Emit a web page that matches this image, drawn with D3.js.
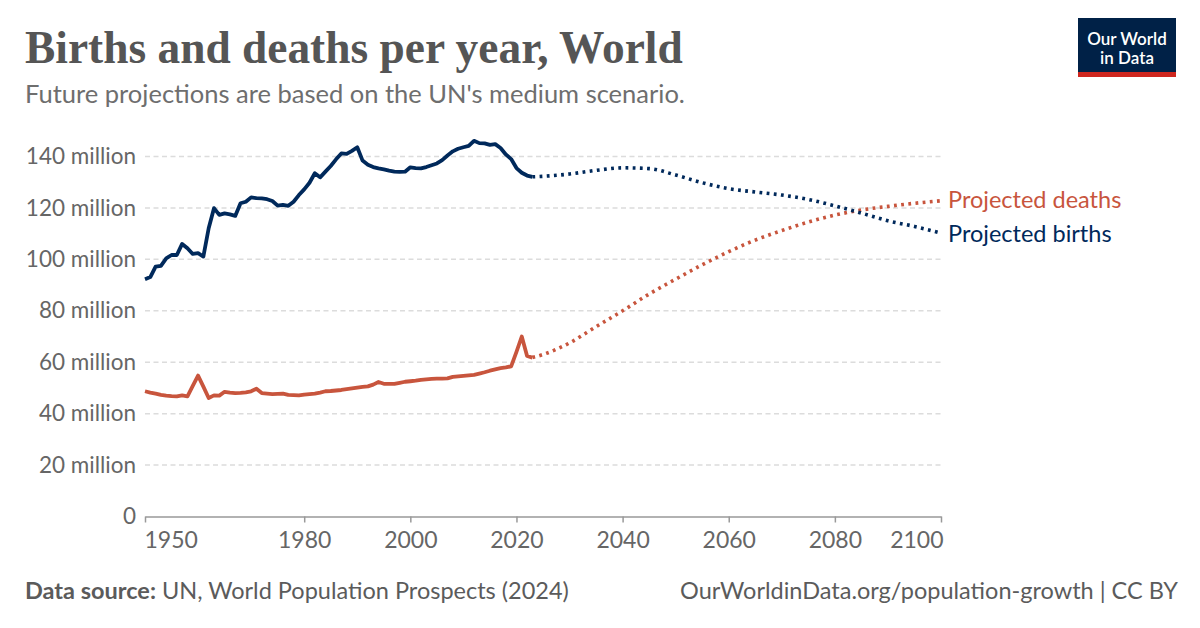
<!DOCTYPE html>
<html><head><meta charset="utf-8">
<script src="https://cdn.jsdelivr.net/npm/d3@7/dist/d3.min.js"></script>
<style>body{margin:0;background:#fff}svg{display:block}</style>
</head><body><svg id="c" width="1200" height="628"></svg>
<script>
const birthYears = d3.range(1950, 2024);
const births = [92.3,93.1,97.2,97.5,100.4,101.7,101.7,106.0,104.3,102.1,
102.4,101.1,112.1,119.9,117.3,117.9,117.5,116.9,121.8,122.4,
124.1,123.8,123.7,123.4,122.7,120.9,121.2,120.8,122.4,125.0,
127.2,129.8,133.5,131.9,134.1,136.3,138.9,141.2,141.0,142.2,
143.6,138.4,136.8,135.9,135.4,135.0,134.5,134.1,134.0,134.1,
135.8,135.5,135.4,135.9,136.6,137.3,138.6,140.4,142.0,143.0,
143.6,144.1,146.1,145.2,145.1,144.5,144.8,143.3,140.8,139.0,
135.5,133.7,132.6,132.1];
const deathYears = d3.range(1950, 2024);
const deaths = [48.7,48.2,47.8,47.3,47.0,46.8,46.7,47.1,46.7,50.8,
54.8,50.5,46.1,47.1,47.0,48.5,48.2,48.0,48.1,48.3,
48.7,49.7,48.0,47.8,47.6,47.7,47.8,47.3,47.2,47.1,
47.4,47.6,47.8,48.2,48.7,48.8,49.0,49.2,49.5,49.8,
50.1,50.4,50.6,51.3,52.3,51.6,51.6,51.6,52.0,52.4,
52.6,52.8,53.1,53.3,53.5,53.6,53.6,53.7,54.3,54.5,
54.7,54.9,55.1,55.6,56.1,56.7,57.2,57.7,58.0,58.4,
64.0,70.0,62.4,61.8];
const projYears = [2023,2025,2030,2035,2040,2045,2050,2055,2060,2065,2070,2075,2080,2085,2090,2095,2100];
const projBirths = [132.1,132.3,133.2,134.6,135.6,135.3,132.8,129.8,127.5,126.2,125.0,123.3,120.8,118.0,115.0,112.8,110.2];
const projDeaths = [61.8,63.0,67.5,73.8,80.0,86.5,92.3,97.9,103.0,107.5,111.2,114.5,117.2,119.2,120.6,121.8,122.8];
const yTicks = [0,20,40,60,80,100,120,140];
const yTickLabels = ["0","20 million","40 million","60 million","80 million","100 million","120 million","140 million"];
const xTicks = [1950,1980,2000,2020,2040,2060,2080,2100];
const seriesLabels = ["Projected deaths","Projected births"];

const svg = d3.select("#c");
const BLUE = "#00295b", RED = "#c8553d", FONT = "Lato, 'Noto Sans', sans-serif";

// title
const title = svg.append("text").attr("x",25).attr("y",63)
  .attr("font-family","'Liberation Serif', serif").attr("font-weight","bold")
  .attr("font-size",40).attr("fill","#555").text("Births and deaths per year, World");
const tw = title.node().getComputedTextLength();
title.attr("font-size", 40*658/tw);
svg.append("text").attr("x",25).attr("y",103).attr("font-family",FONT).attr("font-size",25.5)
  .attr("fill","#6e6e6e").text("Future projections are based on the UN's medium scenario.");

// logo
const lg = svg.append("g");
lg.append("rect").attr("x",1078).attr("y",18).attr("width",98).attr("height",59).attr("fill","#002147");
lg.append("rect").attr("x",1078).attr("y",72).attr("width",98).attr("height",5).attr("fill","#ce261e");
lg.append("text").attr("x",1127).attr("y",45).attr("text-anchor","middle").attr("font-family",FONT)
  .attr("font-weight",600).attr("font-size",17).attr("fill","#fff").text("Our World");
lg.append("text").attr("x",1127).attr("y",64).attr("text-anchor","middle").attr("font-family",FONT)
  .attr("font-weight",600).attr("font-size",17).attr("fill","#fff").text("in Data");

// scales
const x = d3.scaleLinear().domain([1950,2100]).range([145,941]);
const y = d3.scaleLinear().domain([0,140]).range([516.5,156.5]);

// grid + y labels
const yAxis = d3.axisLeft(y).tickValues(yTicks).tickSize(0).tickPadding(0)
  .tickFormat((d,i)=>yTickLabels[i]);
const gy = svg.append("g").attr("transform","translate(136,0)").call(yAxis);
gy.select(".domain").remove();
gy.selectAll("text").attr("font-family",FONT).attr("font-size",22.5).attr("fill","#666");
svg.append("g").selectAll("line").data(yTicks.filter(d=>d>0)).join("line")
  .attr("x1",145).attr("x2",941).attr("y1",d=>y(d)).attr("y2",d=>y(d))
  .attr("stroke","#dcdcdc").attr("stroke-width",1.5).attr("stroke-dasharray","5,3.5");

// x axis
const gx = svg.append("g").attr("transform","translate(0,516.5)")
  .call(d3.axisBottom(x).tickValues(xTicks).tickFormat(d3.format("d")).tickSize(6).tickSizeOuter(0).tickPadding(9));
gx.select(".domain").attr("stroke","#999").attr("stroke-width",1.5);
gx.selectAll(".tick line").attr("stroke","#999").attr("stroke-width",1.5);
gx.selectAll("text").attr("font-family",FONT).attr("font-size",23).attr("fill","#666");
gx.selectAll(".tick text").filter(d=>d===1950).attr("text-anchor","start").attr("dx",-1);
gx.selectAll(".tick text").filter(d=>d===2100).attr("text-anchor","end").attr("dx",2);

// lines
const line = d3.line().x(d=>x(d[0])).y(d=>y(d[1]));
const mk = (yrs, vals) => yrs.map((yr,i)=>[yr, vals[i]]);
const lineC = d3.line().x(d=>x(d[0])).y(d=>y(d[1])).curve(d3.curveMonotoneX);
svg.append("path").attr("d",lineC(mk(projYears,projDeaths))).attr("fill","none").attr("stroke",RED)
  .attr("stroke-width",3.6).attr("stroke-dasharray","2.8,4.4");
svg.append("path").attr("d",lineC(mk(projYears,projBirths))).attr("fill","none").attr("stroke",BLUE)
  .attr("stroke-width",3.6).attr("stroke-dasharray","2.8,4.4");
svg.append("path").attr("d",line(mk(deathYears,deaths))).attr("fill","none").attr("stroke",RED)
  .attr("stroke-width",3.8).attr("stroke-linejoin","round");
svg.append("path").attr("d",line(mk(birthYears,births))).attr("fill","none").attr("stroke",BLUE)
  .attr("stroke-width",3.8).attr("stroke-linejoin","round");

// labels
svg.append("text").attr("x",948).attr("y",y(projDeaths[projDeaths.length-1])-1).attr("dy","0.35em")
  .attr("font-family",FONT).attr("font-size",23.5).attr("fill",RED).text(seriesLabels[0]);
svg.append("text").attr("x",948).attr("y",y(projBirths[projBirths.length-1])+1).attr("dy","0.35em")
  .attr("font-family",FONT).attr("font-size",23.5).attr("fill",BLUE).text(seriesLabels[1]);

// footer
const f = svg.append("text").attr("x",25).attr("y",599).attr("font-family",FONT).attr("font-size",23.5).attr("fill","#5b5b5b");
f.append("tspan").attr("font-weight","bold").text("Data source:");
f.append("tspan").text(" UN, World Population Prospects (2024)");
svg.append("text").attr("x",1178).attr("y",599).attr("text-anchor","end").attr("font-family",FONT)
  .attr("font-size",23.5).attr("fill","#5b5b5b").text("OurWorldinData.org/population-growth | CC BY");
</script></body></html>
